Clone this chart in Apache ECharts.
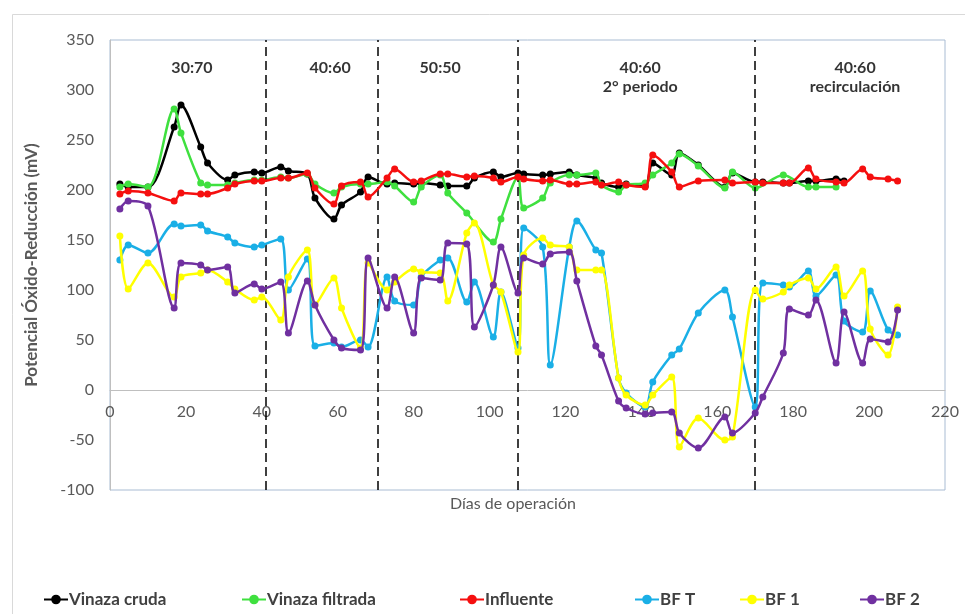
<!DOCTYPE html>
<html>
<head>
<meta charset="utf-8">
<script src="https://cdn.jsdelivr.net/npm/echarts@6/dist/echarts.min.js"></script>
<style>
html,body{margin:0;padding:0;background:#fff;}
#chart{width:965px;height:614px;}
</style>
</head>
<body>
<div id="chart"></div>
<script>
// Sampling days (x values)
const days = [2.6, 4.8, 10, 16.9, 18.7, 23.9, 25.7, 31, 32.9, 38,
  40, 45, 47, 52, 54, 59, 61, 66, 68, 73,
  75, 80, 82, 87, 89, 94, 96, 101, 103, 107.5,
  109, 114, 116, 121, 123, 128, 129.5, 134, 136, 141,
  143, 148, 150, 155, 162, 164, 170, 172, 177.4, 179,
  184, 186, 191.3, 193.4, 198.3, 200.3, 205, 207.5];

const vinazaCruda = [206, 203, 203, 263, 285, 243, 227, 210, 215, 218,
  217, 223, 219, 216, 192, 171, 185, 198, 213, 206,
  207, 206, 207, 205, 204, 204, 212, 218, 213, 217,
  216, 215, 216, 218, 215, 212, 207, 203, 206, 204,
  227, 215, 237, 225, 203, 217, 208, 208, 207, 207,
  209, 209, 211, 209, null, null, null, null];

const vinazaFiltrada = [203, 206, 203, 281, 257, 207, 205, 205, 207, 210,
  210, 213, 212, 216, 206, 197, 203, 206, 206, 208,
  204, 188, 203, 215, 197, 177, null, 148, 171, 213,
  182, 192, 207, 215, 215, 217, 205, 198, 205, 207,
  215, 227, 236, 224, 202, 218, 202, null, 215, null,
  203, 203, 203, null, null, null, null, null];

const influente = [196, 199, 197, 189, 197, 196, 196, 202, 206, 209,
  209, 212, 212, 217, 202, 186, 204, 208, 193, 212,
  221, 208, 209, 216, 216, 213, 214, 212, 208, 213,
  211, 209, 210, 206, 206, 208, 205, 208, 205, 203,
  235, 218, 203, 209, 210, 207, 208, 207, 207, 207,
  222, 211, 208, 207, 221, 213, 211, 209];

const bfT = [130, 145, 137, 166, 164, 165, 159, 153, 147, 143,
  145, 151, 100, 131, 44, 47, 43, 50, 43, 113,
  89, 85, 113, 130, 132, 88, 108, 53, 98, 42,
  162, 143, 25, 143, 169, 140, 137, 12, -3, -17,
  8, 35, 41, 77, 100, 73, -17, 107, 105, 103,
  119, 94, 115, 69, 58, 99, 60, 55];

const bf1 = [154, 101, 127, 93, 113, 117, 120, 108, 101, 90,
  93, 70, 113, 140, 85, 112, 82, 42, 127, 100,
  108, 121, 118, 117, 89, 157, 167, 105, 98, 38,
  135, 152, 145, 143, 120, 120, 120, 12, -5, -15,
  -5, 13, -57, -28, -50, -47, 100, 91, 98, 105,
  112, 101, 123, 94, 119, 61, 35, 83];

const bf2 = [181, 189, 184, 82, 127, 125, 120, 123, 97, 106,
  101, 108, 57, 109, 85, 50, 42, 40, 132, 82,
  113, 57, 112, 110, 147, 146, 63, 105, 143, 97,
  132, 126, 136, 138, 109, 44, 35, -11, -18, -24,
  -23, -22, -43, -58, -27, -43, -23, -7, 37, 81,
  75, 90, 27, 78, 27, 51, 48, 80];

// Period boundaries (days) and labels
const periodBounds = [41, 70.5, 107.3, 170];
const periodLabels = [
  {x: 21.6, y: 322, text: '30:70'},
  {x: 58, y: 322, text: '40:60'},
  {x: 87, y: 322, text: '50:50'},
  {x: 139.7, y: 313, text: '40:60\n2° periodo'},
  {x: 196.3, y: 313, text: '40:60\nrecirculación'}
];

const seriesNames = ['Vinaza cruda', 'Vinaza filtrada', 'Influente', 'BF T', 'BF 1', 'BF 2'];
const seriesValues = [vinazaCruda, vinazaFiltrada, influente, bfT, bf1, bf2];
const seriesColors = ['#000000', '#3FE03F', '#F50F0F', '#1AAFE6', '#FFFF00', '#7030A0'];
const legendLefts = [38, 236, 454, 629, 734, 854];

const Y_MIN = -100, Y_MAX = 350;
const GRID_TOP = 40, GRID_H = 450;

function pairs(vals) {
  const out = [];
  days.forEach((d, i) => { if (vals[i] !== null) out.push([d, vals[i]]); });
  return out;
}

const FONT = 'Lato, "Open Sans", sans-serif';

const series = seriesNames.map((name, k) => ({
  name: name,
  type: 'line',
  data: pairs(seriesValues[k]),
  smooth: 0.3,
  symbol: 'circle',
  symbolSize: 7,
  lineStyle: {width: 2.5, color: seriesColors[k]},
  itemStyle: {color: seriesColors[k]},
  z: 3 + k
}));

series.push({
  name: 'periods',
  type: 'scatter',
  data: periodBounds.map(b => [b, 0]),
  symbolSize: 0,
  silent: true,
  markLine: {
    silent: true,
    symbol: ['none', 'none'],
    label: {show: false},
    lineStyle: {color: '#000', type: [9, 5], width: 1.5},
    data: periodBounds.map(b => ({xAxis: b}))
  },
  z: 2
});

series.push({
  name: 'periodText',
  type: 'scatter',
  data: periodLabels.map(p => ({value: [p.x, p.y], label: {formatter: p.text}})),
  symbolSize: 0,
  silent: true,
  label: {
    show: true,
    position: 'inside',
    fontFamily: FONT,
    fontWeight: 'bold',
    fontSize: 16,
    lineHeight: 19,
    color: '#000',
    align: 'center'
  },
  z: 10
});

const legends = seriesNames.map((name, k) => ({
  data: [name],
  left: legendLefts[k],
  top: 586,
  itemWidth: 24,
  itemHeight: 12,
  itemGap: 2,
  textStyle: {fontFamily: FONT, fontSize: 17, fontWeight: 'bold', color: '#404040', padding: [0, 0, 0, -4]}
}));

// shift the x axis up so it sits on y = 0 (labels included)
const zeroOffset = -GRID_H * (0 - Y_MIN) / (Y_MAX - Y_MIN);

const chart = echarts.init(document.getElementById('chart'), null, {renderer: 'canvas'});
chart.setOption({
  animation: false,
  backgroundColor: '#ffffff',
  grid: {left: 110, top: GRID_TOP, width: 835, height: GRID_H, show: true, borderColor: '#a9bcd3', borderWidth: 1, backgroundColor: 'transparent'},
  legend: legends,
  xAxis: {
    type: 'value', min: 0, max: 220, interval: 20,
    offset: zeroOffset,
    axisLine: {show: true, onZero: false, lineStyle: {color: '#bfbfbf', width: 1}},
    axisTick: {show: false},
    splitLine: {show: false},
    axisLabel: {fontFamily: FONT, fontSize: 16, color: '#595959', margin: 14}
  },
  yAxis: {
    type: 'value', min: Y_MIN, max: Y_MAX, interval: 50,
    name: 'Potencial Óxido-Reducción (mV)',
    nameLocation: 'middle', nameRotate: 90, nameGap: 70,
    nameTextStyle: {fontFamily: FONT, fontSize: 17, fontWeight: 'bold', color: '#595959'},
    axisLine: {show: true, lineStyle: {color: '#bfbfbf'}},
    axisTick: {show: false},
    splitLine: {show: false},
    axisLabel: {fontFamily: FONT, fontSize: 16, color: '#595959', margin: 16}
  },
  graphic: [
    {type: 'rect', left: 10, top: 12, shape: {width: 970, height: 620}, style: {fill: 'none', stroke: '#d9d9d9', lineWidth: 1}, silent: true, z: -1},
    {type: 'text', left: 450, top: 496, style: {text: 'Días de operación', fontFamily: FONT, fontSize: 16, fill: '#595959'}, silent: true}
  ],
  series: series
});
</script>
</body>
</html>
